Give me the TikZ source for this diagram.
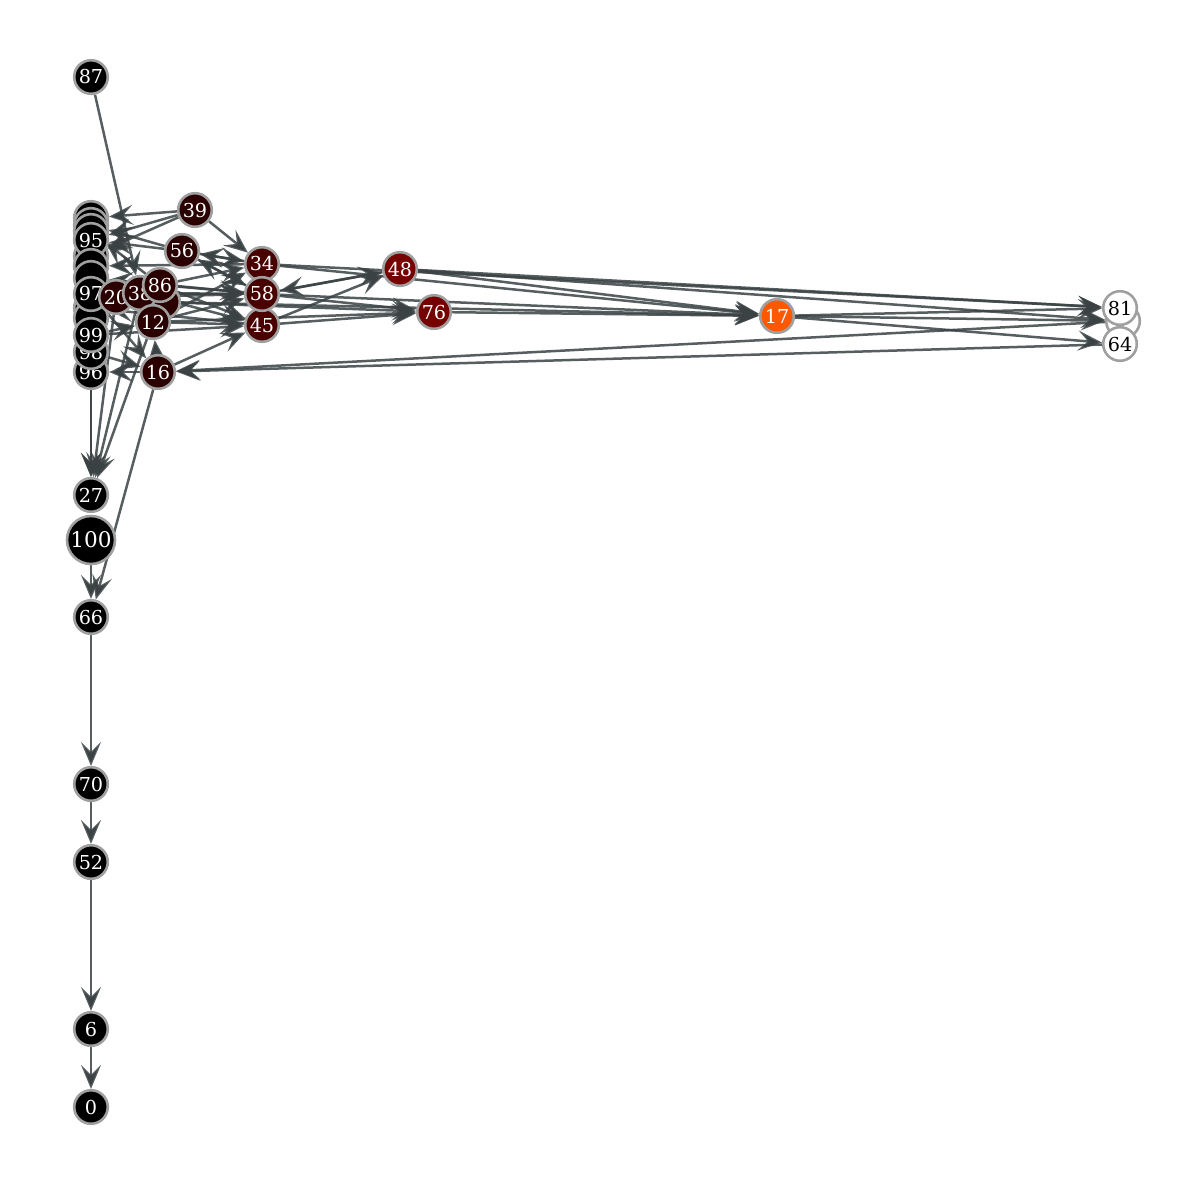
\documentclass[tikz,border=0pt]{standalone}
\usepackage{fontspec}
\setmainfont{DejaVu Serif}
\usetikzlibrary{arrows.meta}
\pgfdeclarelayer{bg}
\pgfsetlayers{bg,main}
\definecolor{edgec}{RGB}{58,66,68}
\definecolor{ringc}{RGB}{160,160,160}
\definecolor{redA}{RGB}{42,0,0}
\definecolor{redB}{RGB}{72,0,0}
\definecolor{redC}{RGB}{118,0,0}
\definecolor{orangeC}{RGB}{255,88,0}
\tikzset{
  vx/.style={circle, draw=ringc, line width=1.3pt, minimum size=16.8pt, inner sep=0pt,
    fill=black, text=white, font=\fontsize{9.6}{10}\selectfont},
  vbig/.style={vx, minimum size=24pt, font=\fontsize{10.8}{11}\selectfont},
  vA/.style={vx, fill=redA},
  vB/.style={vx, fill=redB},
  vC/.style={vx, fill=redC},
  vO/.style={vx, fill=orangeC},
  vW/.style={vx, fill=white, text=black},
  ed/.style={draw=edgec, draw opacity=0.85, line width=1.25pt,
    -{Stealth[length=12pt, width=10pt, inset=5pt]}},
}
\begin{document}
\begin{tikzpicture}[x=0.5pt, y=-0.5pt]
\useasboundingbox (0,0) rectangle (1200,1185);
% hidden stack nodes
\node[vx] (sA) at (91,218) {};
\node[vx] (sB) at (91,225) {};
\node[vx] (sC) at (91,231) {};
\node[vx] (sD) at (91,256) {};
\node[vx] (n95) at (91,240) {95};
\node[vx] (sE) at (91,266) {};
\node[vx] (sF) at (91,278) {};
\node[vx] (sG) at (91,308) {};
\node[vx] (sH) at (91,318) {};
\node[vx] (n97) at (91,294) {97};
\node[vx] (n96) at (91,372) {96};
\node[vx] (n98) at (91,352) {98};
\node[vx] (n99) at (91,335) {99};
% cluster
\node[vA] (cX) at (163,302) {};
\node[vA] (n20) at (116,297) {20};
\node[vA] (n38) at (140,293) {38};
\node[vA] (n12) at (153,322) {12};
\node[vA] (n86) at (160,285) {86};
\node[vA] (n16) at (158,372) {16};
\node[vA] (n56) at (182,251) {56};
\node[vA] (n39) at (195,210) {39};
\node[vB] (n34) at (262,264) {34};
\node[vB] (n45) at (262,325) {45};
\node[vB] (n58) at (262,294) {58};
\node[vC] (n48) at (400,269) {48};
\node[vC] (n76) at (434,312) {76};
\node[vO] (n17) at (777,316) {17};
\node[vW] (hR) at (1123,321) {};
\node[vW] (n81) at (1120,308) {81};
\node[vW] (n64) at (1120,344) {64};
% column
\node[vx] (n87) at (91,77) {87};
\node[vx] (n27) at (91,495) {27};
\node[vbig] (n100) at (91,540) {100};
\node[vx] (n66) at (91,617) {66};
\node[vx] (n70) at (91,784) {70};
\node[vx] (n52) at (91,862) {52};
\node[vx] (n6) at (91,1029) {6};
\node[vx] (n0) at (91,1107) {0};
\begin{pgfonlayer}{bg}
\draw[ed] (n87) -- (n38);
\draw[ed] (n39) -- (sA);
\draw[ed] (n39) -- (n95);
\draw[ed] (n39) -- (n34);
\draw[ed] (n39) -- (sD);
\draw[ed] (n56) -- (sB);
\draw[ed] (n56) -- (n95);
\draw[ed] (n56) -- (n34);
\draw[ed] (n56) -- (n58);
\draw[ed] (n34) -- (n56);
\draw[ed] (n34) -- (n81);
\draw[ed] (n34) -- (sE);
\draw[ed] (n34) -- (n17);
\draw[ed] (n58) -- (n48);
\draw[ed] (n58) -- (n17);
\draw[ed] (n58) -- (n76);
\draw[ed] (n58) -- (n56);
\draw[ed] (n58) -- (sF);
\draw[ed] (n58) -- (n97);
\draw[ed] (n48) -- (n58);
\draw[ed] (n48) -- (n81);
\draw[ed] (n48) -- (n17);
\draw[ed] (n48) -- (hR);
\draw[ed] (n45) -- (n48);
\draw[ed] (n45) -- (n76);
\draw[ed] (n45) -- (sG);
\draw[ed] (n76) -- (n17);
\draw[ed] (n17) -- (n81);
\draw[ed] (n17) -- (n64);
\draw[ed] (n17) -- (hR);
\draw[ed] (hR) -- (n16);
\draw[ed] (n64) -- (n16);
\draw[ed] (n16) -- (n45);
\draw[ed] (n16) -- (n66);
\draw[ed] (n16) -- (n12);
\draw[ed] (n16) -- (n96);
\draw[ed] (n12) -- (n76);
\draw[ed] (n12) -- (n58);
\draw[ed] (n12) -- (n34);
\draw[ed] (n12) -- (n45);
\draw[ed] (n12) -- (n27);
\draw[ed] (n86) -- (n34);
\draw[ed] (n86) -- (n58);
\draw[ed] (n86) -- (sC);
\draw[ed] (n86) -- (n45);
\draw[ed] (n38) -- (n58);
\draw[ed] (n38) -- (n27);
\draw[ed] (n38) -- (n45);
\draw[ed] (n20) -- (n27);
\draw[ed] (n20) -- (n58);
\draw[ed] (cX) -- (n76);
\draw[ed] (cX) -- (n17);
\draw[ed] (n97) -- (n16);
\draw[ed] (n99) -- (n12);
\draw[ed] (n99) -- (n45);
\draw[ed] (n98) -- (n16);
\draw[ed] (sH) -- (n27);
\draw[ed] (n96) -- (n27);
\draw[ed] (n100) -- (n66);
\draw[ed] (n66) -- (n70);
\draw[ed] (n70) -- (n52);
\draw[ed] (n52) -- (n6);
\draw[ed] (n6) -- (n0);
\end{pgfonlayer}
\end{tikzpicture}
\end{document}
